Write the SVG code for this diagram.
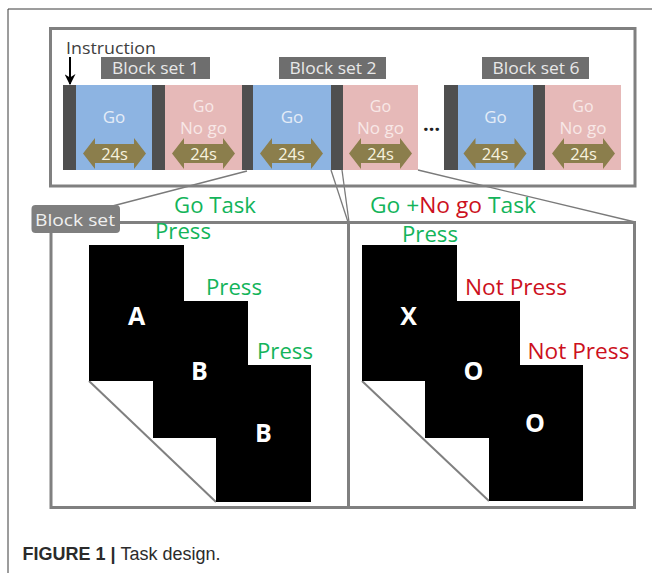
<svg xmlns="http://www.w3.org/2000/svg" width="652" height="573" viewBox="0 0 652 573">
<defs>
<style>
.frame{fill:none;stroke:#3a3a3a;stroke-width:1}
.panel{fill:none;stroke:#808080;stroke-width:3}
.bar{fill:#4f4f4f}
.blue{fill:#8db4e2}
.pink{fill:#e6b9b8}
.lbl{fill:#6e6e6e}
.lbltxt{font-family:"Open Sans",sans-serif;font-size:15.5px;fill:#e8e8e8;text-anchor:middle}
.bt{font-family:"Open Sans",sans-serif;font-size:17px;text-anchor:middle}
.bt.p{font-size:16px}
.bt.b{fill:#e4ecf7}
.bt.p{fill:#f8e8e7}
.dur{fill:#8b7e4c}
.durtxt{font-family:"Open Sans",sans-serif;font-size:16.5px;fill:#f7f2de;text-anchor:middle}
.conn{fill:none;stroke:#7a7a7a;stroke-width:1.3}
.diag{fill:none;stroke:#808080;stroke-width:2}
.task{font-family:"Open Sans",sans-serif;font-size:21px}
.g{fill:#13b45a}
.r{fill:#cc1020}
.press{font-family:"Open Sans",sans-serif;font-size:21px}
.sq{fill:#000}
.let{font-family:"Open Sans",sans-serif;font-weight:700;font-size:25px;fill:#fff;text-anchor:middle}
</style>
<marker id="ah" viewBox="0 0 10 10" refX="9" refY="5" markerWidth="11" markerHeight="11" markerUnits="userSpaceOnUse" orient="auto">
<path d="M0,0 L10,5 L0,10 L3,5 z" fill="#000"/>
</marker>
<path id="dbl" d="M-31.5,0 L-19.5,-15.5 L-19.5,-9.5 L19.5,-9.5 L19.5,-15.5 L31.5,0 L19.5,15.5 L19.5,9.5 L-19.5,9.5 L-19.5,15.5 z"/>
</defs>
<rect width="652" height="573" fill="#fff"/>
<g id="figure-frame">
<path class="frame" d="M8,573 L8,9 L652,9"/>
</g>
<g id="connectors">
<line class="conn" x1="247" y1="171" x2="51" y2="222"/>
<line class="conn" x1="331" y1="170" x2="348" y2="222"/>
<line class="conn" x1="342" y1="170" x2="349" y2="222"/>
<line class="conn" x1="418" y1="170" x2="635" y2="222"/>
</g>
<g id="top-panel">
<rect class="panel" x="50.5" y="28.5" width="584.5" height="157.5"/>
</g>
<g id="instruction">
<text x="66" y="54" font-family="'Open Sans',sans-serif" font-size="15.5" fill="#404040" textLength="90" lengthAdjust="spacingAndGlyphs">Instruction</text>
<line x1="70" y1="57" x2="70" y2="84" stroke="#000" stroke-width="2" marker-end="url(#ah)"/>
</g>
<g id="block-set-1">
<rect class="lbl" x="101" y="57" width="109" height="22"/>
<text class="lbltxt" x="155.5" y="74" textLength="87" lengthAdjust="spacingAndGlyphs">Block set 1</text>
<rect class="bar" x="63" y="85" width="13" height="85"/>
<rect class="blue" x="76" y="85" width="76" height="85"/>
<text class="bt b" x="114" y="123">Go</text>
<use href="#dbl" class="dur" x="114.5" y="153.5"/>
<text class="durtxt" x="114.5" y="160">24s</text>
<rect class="bar" x="152" y="85" width="13" height="85"/>
<rect class="pink" x="165" y="85" width="77" height="85"/>
<text class="bt p" x="203.5" y="111.5">Go</text>
<text class="bt p" x="203.5" y="133.5" textLength="47" lengthAdjust="spacingAndGlyphs">No go</text>
<use href="#dbl" class="dur" x="203.5" y="153.5"/>
<text class="durtxt" x="203.5" y="160">24s</text>
</g>
<g id="block-set-2">
<rect class="lbl" x="279" y="57" width="107" height="22"/>
<text class="lbltxt" x="333" y="74" textLength="87" lengthAdjust="spacingAndGlyphs">Block set 2</text>
<rect class="bar" x="242" y="85" width="11" height="85"/>
<rect class="blue" x="253" y="85" width="78" height="85"/>
<text class="bt b" x="292" y="123">Go</text>
<use href="#dbl" class="dur" x="291.5" y="153.5"/>
<text class="durtxt" x="291.5" y="160">24s</text>
<rect class="bar" x="331" y="85" width="12" height="85"/>
<rect class="pink" x="343" y="85" width="75" height="85"/>
<text class="bt p" x="380.5" y="111.5">Go</text>
<text class="bt p" x="380.5" y="133.5" textLength="47" lengthAdjust="spacingAndGlyphs">No go</text>
<use href="#dbl" class="dur" x="380.5" y="153.5"/>
<text class="durtxt" x="380.5" y="160">24s</text>
</g>
<g id="ellipsis">
<text x="431.5" y="131" font-family="'Open Sans',sans-serif" font-size="20" font-weight="700" fill="#222" text-anchor="middle">…</text>
</g>
<g id="block-set-6">
<rect class="lbl" x="482" y="57" width="107" height="22"/>
<text class="lbltxt" x="536" y="74" textLength="87" lengthAdjust="spacingAndGlyphs">Block set 6</text>
<rect class="bar" x="444" y="85" width="14" height="85"/>
<rect class="blue" x="458" y="85" width="75" height="85"/>
<text class="bt b" x="495.5" y="123">Go</text>
<use href="#dbl" class="dur" x="495" y="153.5"/>
<text class="durtxt" x="495" y="160">24s</text>
<rect class="bar" x="533" y="85" width="12" height="85"/>
<rect class="pink" x="545" y="85" width="76" height="85"/>
<text class="bt p" x="583" y="111.5">Go</text>
<text class="bt p" x="583" y="133.5" textLength="47" lengthAdjust="spacingAndGlyphs">No go</text>
<use href="#dbl" class="dur" x="583.5" y="153.5"/>
<text class="durtxt" x="583.5" y="160">24s</text>
</g>
<g id="lower-panel">
<rect class="panel" x="51" y="222.5" width="583.5" height="285"/>
<line class="panel" x1="348.5" y1="222.5" x2="348.5" y2="507.5"/>
</g>
<g id="block-set-label">
<rect x="31.5" y="205" width="88.5" height="28" rx="4" fill="#7f7f7f"/>
<text x="35" y="226" font-family="'Open Sans',sans-serif" font-size="16" fill="#f0f0f0" textLength="80" lengthAdjust="spacingAndGlyphs">Block set</text>
</g>
<g id="go-task">
<text class="task g" x="174" y="213" textLength="82" lengthAdjust="spacingAndGlyphs">Go Task</text>
<line class="diag" x1="89" y1="381" x2="216" y2="502"/>
<rect class="sq" x="89" y="245" width="95" height="136"/>
<rect class="sq" x="153" y="301" width="95" height="137"/>
<rect class="sq" x="216" y="365" width="95" height="137"/>
<text class="let" x="136.5" y="325">A</text>
<text class="let" x="199.5" y="380">B</text>
<text class="let" x="263.5" y="442">B</text>
<text class="press g" x="155" y="239" textLength="56" lengthAdjust="spacingAndGlyphs">Press</text>
<text class="press g" x="206" y="295" textLength="56" lengthAdjust="spacingAndGlyphs">Press</text>
<text class="press g" x="257" y="359" textLength="56" lengthAdjust="spacingAndGlyphs">Press</text>
</g>
<g id="go-nogo-task">
<text class="task" x="370" y="213" textLength="166" lengthAdjust="spacingAndGlyphs"><tspan class="g">Go +</tspan><tspan class="r">No go</tspan><tspan class="g"> Task</tspan></text>
<line class="diag" x1="362" y1="381" x2="489" y2="501"/>
<rect class="sq" x="362" y="245" width="95" height="136"/>
<rect class="sq" x="425" y="301" width="95" height="137"/>
<rect class="sq" x="489" y="365" width="94" height="136"/>
<text class="let" x="408.5" y="325">X</text>
<text class="let" x="473.5" y="380">O</text>
<text class="let" x="535" y="432">O</text>
<text class="press g" x="402" y="242" textLength="56" lengthAdjust="spacingAndGlyphs">Press</text>
<text class="press r" x="465" y="295" textLength="102" lengthAdjust="spacingAndGlyphs">Not Press</text>
<text class="press r" x="527.5" y="359" textLength="102" lengthAdjust="spacingAndGlyphs">Not Press</text>
</g>
<g id="caption">
<text x="22.5" y="560" font-family="'Liberation Sans',Arial,sans-serif" font-size="18" fill="#2b2b2b" textLength="198" lengthAdjust="spacingAndGlyphs"><tspan font-weight="700">FIGURE 1 | </tspan>Task design.</text>
</g>
</svg>
